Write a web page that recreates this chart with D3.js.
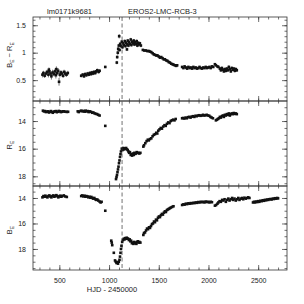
<!DOCTYPE html>
<html>
  <head>
    <style>
      body { margin: 0; background: #fff; }
      svg { font-family: "Liberation Sans", Arial, sans-serif; -webkit-font-smoothing: antialiased; }
      .axis path { display: none; }
      .axis line { stroke: #333; stroke-width: 0.7; }
      .axis text { fill: #222; font-size: 7px; }
      .label { fill: #222; font-size: 7.5px; }
    </style>
  </head>
  <body>
    <svg width="304" height="304"></svg>
    <script src="https://cdn.jsdelivr.net/npm/d3@7"></script>
    <script>
      // star names
      let titleLeft = "lm0171k9681",
        titleRight = "EROS2-LMC-RCB-3",
        xTitle = "HJD - 2450000";

      let xMajor = [500, 1000, 1500, 2000, 2500];
      let eventDate = 1131;

      // colour B_E - R_E : [hjd, value, error]
      let colourData = [
        [330,0.60,0.05],[340,0.63,0.04],[352,0.58,0.04],[365,0.62,0.05],[378,0.65,0.04],[390,0.60,0.05],
        [395,0.69,0.04],[400,0.66,0.06],[412,0.62,0.04],[420,0.57,0.06],[432,0.64,0.05],[445,0.61,0.04],
        [455,0.66,0.05],[465,0.59,0.06],[470,0.70,0.05],[478,0.63,0.04],[488,0.67,0.05],[497,0.47,0.07],
        [505,0.60,0.05],[515,0.64,0.04],[525,0.62,0.05],[538,0.58,0.04],[548,0.65,0.04],[560,0.62,0.05],
        [572,0.60,0.04],[585,0.63,0.04],
        [720,0.58,0.03],[735,0.60,0.03],[748,0.57,0.03],[760,0.61,0.03],[772,0.59,0.03],[785,0.62,0.03],
        [795,0.60,0.03],[808,0.63,0.03],[818,0.61,0.03],[828,0.64,0.03],[840,0.62,0.03],[850,0.65,0.03],
        [862,0.63,0.03],[872,0.66,0.03],[882,0.68,0.03],[895,0.65,0.03],[905,0.67,0.03],
        [962,0.74,0.02],
        [1078,0.82,0.03],[1082,0.92,0.03],[1088,1.00,0.04],[1092,1.07,0.04],[1098,1.13,0.03],[1102,1.30,0.04],[1106,1.05,0.03],
        [1112,1.16,0.03],[1120,1.12,0.03],[1128,1.20,0.03],[1135,1.10,0.03],[1142,1.17,0.03],[1150,1.14,0.03],
        [1158,1.21,0.03],[1165,1.12,0.03],[1172,1.18,0.03],[1180,1.06,0.03],[1184,1.15,0.03],[1188,1.22,0.03],
        [1195,1.13,0.03],[1202,1.19,0.03],[1210,1.16,0.03],[1218,1.24,0.03],[1225,1.14,0.03],[1232,1.20,0.03],
        [1240,1.17,0.03],[1248,1.22,0.03],[1255,1.15,0.03],[1262,1.19,0.03],[1270,1.16,0.03],[1278,1.21,0.03],
        [1285,1.13,0.03],[1292,1.18,0.03],[1300,1.15,0.03],[1310,1.17,0.03],[1320,1.13,0.03],
        [1340,1.05,0.02],[1355,1.04,0.02],[1370,1.04,0.02],[1385,1.03,0.02],[1400,1.03,0.02],[1412,1.02,0.02],
        [1425,1.01,0.02],[1438,0.99,0.02],[1450,0.97,0.02],[1462,0.96,0.02],[1475,0.95,0.02],[1487,0.95,0.02],
        [1500,0.93,0.02],[1512,0.91,0.02],[1525,0.92,0.02],[1538,0.90,0.02],[1550,0.88,0.02],[1562,0.88,0.02],
        [1575,0.86,0.02],[1588,0.85,0.02],[1600,0.83,0.02],[1612,0.82,0.02],[1625,0.80,0.02],[1638,0.79,0.02],
        [1650,0.78,0.02],[1662,0.77,0.02],[1675,0.76,0.02],[1685,0.77,0.02],
        [1735,0.74,0.02],[1748,0.72,0.02],[1760,0.75,0.02],[1772,0.73,0.02],[1785,0.71,0.02],[1798,0.74,0.02],
        [1810,0.72,0.02],[1822,0.73,0.02],[1835,0.71,0.02],[1848,0.74,0.02],[1860,0.72,0.02],[1872,0.73,0.02],
        [1885,0.71,0.02],[1898,0.72,0.02],[1910,0.74,0.02],[1922,0.72,0.02],[1935,0.71,0.02],[1948,0.73,0.02],
        [1960,0.72,0.02],[1972,0.74,0.02],[1985,0.72,0.02],[1998,0.73,0.02],[2010,0.74,0.02],[2022,0.72,0.02],
        [2035,0.75,0.02],[2048,0.74,0.02],
        [2065,0.79,0.02],[2075,0.77,0.02],[2090,0.75,0.02],[2100,0.74,0.02],
        [2115,0.71,0.03],[2125,0.68,0.03],[2135,0.72,0.03],[2145,0.69,0.03],[2155,0.66,0.03],[2165,0.70,0.03],
        [2175,0.67,0.03],[2185,0.71,0.03],[2195,0.68,0.03],[2205,0.74,0.03],[2215,0.70,0.03],[2225,0.66,0.03],
        [2235,0.72,0.03],[2245,0.69,0.03],[2255,0.71,0.03],[2265,0.67,0.03],[2275,0.70,0.03],[2285,0.68,0.03]
      ];

      // R_E magnitude : [hjd, mag]
      let redData = [
        [335,13.25],[345,13.3],[355,13.28],[365,13.35],[375,13.32],[385,13.3],[395,13.38],[405,13.33],
        [415,13.28],[425,13.35],[435,13.4],[445,13.32],[455,13.3],[465,13.28],[475,13.36],[485,13.32],
        [495,13.27],[505,13.3],[515,13.35],[525,13.33],[535,13.3],[545,13.3],[560,13.32],[575,13.34],[588,13.33],
        [685,13.3],[695,13.35],[712,13.28],[722,13.25],[735,13.3],[745,13.27],[755,13.32],[765,13.25],
        [775,13.3],[785,13.28],[795,13.35],[805,13.3],[818,13.33],[830,13.4],[842,13.38],[855,13.45],
        [868,13.48],[880,13.5],[892,13.55],[905,13.6],
        [962,14.35],
        [1070,18.2],[1075,18.05],[1080,17.9],[1085,17.7],[1090,17.5],[1095,17.3],[1100,17.05],[1105,16.85],
        [1110,16.6],[1115,16.4],[1120,16.2],
        [1128,16.0],[1135,16.1],[1142,15.95],[1150,16.05],[1158,15.98],[1165,16.0],[1172,15.95],[1180,16.05],
        [1188,16.1],[1195,16.2],[1202,16.3],[1210,16.25],[1218,16.45],[1225,16.4],[1232,16.5],[1240,16.35],
        [1248,16.45],[1255,16.3],[1262,16.38],[1270,16.35],[1278,16.25],[1285,16.3],[1295,16.3],[1305,16.35],[1315,16.3],
        [1345,15.85],[1352,15.75],[1365,15.6],[1378,15.45],[1390,15.35],[1400,15.4],[1412,15.3],[1425,15.25],
        [1438,15.1],[1450,15.0],[1462,14.95],[1475,14.85],[1485,14.9],[1495,14.7],[1508,14.6],[1520,14.5],
        [1532,14.55],[1545,14.4],[1558,14.3],[1570,14.35],[1582,14.2],[1595,14.1],[1608,14.15],[1620,14.0],
        [1632,13.95],[1645,13.9],[1658,13.95],[1670,13.85],
        [1735,13.8],[1745,13.78],[1758,13.82],[1770,13.75],[1782,13.8],[1795,13.72],[1808,13.7],[1820,13.75],
        [1832,13.68],[1845,13.65],[1858,13.7],[1870,13.62],[1882,13.65],[1895,13.6],[1908,13.58],[1920,13.62],
        [1932,13.6],[1945,13.55],[1958,13.6],[1970,13.58],[1982,13.55],[1995,13.6],[2008,13.62],[2020,13.7],
        [2032,13.75],[2045,13.8],
        [2075,13.95],[2085,13.9],[2095,13.85],[2105,13.8],
        [2115,13.7],[2125,13.75],[2135,13.65],[2145,13.6],[2155,13.7],[2165,13.55],[2175,13.6],[2185,13.5],
        [2195,13.55],[2205,13.45],[2215,13.6],[2225,13.5],[2235,13.45],[2245,13.5],[2255,13.42],[2265,13.48],
        [2275,13.45],[2285,13.5]
      ];

      // B_E magnitude : [hjd, mag]
      let blueData = [
        [330,13.95],[340,13.85],[350,13.9],[360,13.82],[370,13.9],[380,13.95],[390,13.85],[400,13.8],
        [410,13.88],[420,13.95],[430,13.85],[440,13.8],[450,13.9],[460,13.85],[470,13.78],[480,13.85],
        [490,13.95],[500,13.88],[510,13.82],[520,13.9],[530,13.85],[545,13.8],[560,13.88],[575,13.92],
        [720,13.85],[730,13.8],[742,13.88],[752,13.82],[762,13.9],[772,13.85],[782,13.88],[792,13.95],
        [802,13.9],[812,13.98],[822,13.92],[832,14.0],[842,14.05],[852,14.0],[862,14.1],[872,14.15],
        [882,14.12],[892,14.2],[905,14.28],[915,14.35],[925,14.3],
        [962,15.0],
        [1022,17.35],[1027,17.5],[1032,17.7],[1048,18.3],
        [1060,18.9],[1068,19.0],[1075,19.1],[1082,19.05],[1090,19.15],[1098,19.0],[1105,18.85],[1110,18.6],
        [1115,18.3],[1120,18.0],[1125,17.75],
        [1132,17.45],[1140,17.3],[1148,17.2],[1155,17.25],[1162,17.15],[1170,17.2],[1178,17.12],[1185,17.18],
        [1192,17.2],[1200,17.3],[1208,17.25],[1215,17.4],[1222,17.35],[1230,17.55],[1238,17.5],[1245,17.6],
        [1252,17.45],[1260,17.55],[1268,17.5],[1275,17.6],[1282,17.45],[1290,17.4],[1298,17.5],[1305,17.45],[1315,17.5],
        [1345,16.9],[1352,16.75],[1362,16.7],[1372,16.55],[1382,16.4],[1392,16.45],[1402,16.3],[1412,16.35],
        [1422,16.2],[1432,16.05],[1442,16.0],[1452,15.85],[1462,15.9],[1472,15.7],[1482,15.75],[1492,15.55],
        [1502,15.45],[1512,15.5],[1522,15.35],[1532,15.25],[1542,15.3],[1552,15.15],[1562,15.05],[1572,15.1],
        [1582,14.95],[1592,14.9],[1602,14.85],[1612,14.8],[1622,14.75],[1635,14.7],[1648,14.65],
        [1735,14.55],[1748,14.5],[1760,14.52],[1772,14.45],[1785,14.48],[1798,14.42],[1810,14.45],[1822,14.4],
        [1835,14.42],[1848,14.38],[1860,14.4],[1872,14.35],[1885,14.38],[1898,14.32],[1910,14.35],[1922,14.3],
        [1935,14.33],[1948,14.3],[1960,14.35],[1972,14.28],[1985,14.32],[1998,14.3],[2010,14.35],[2022,14.3],[2035,14.33],
        [2065,14.6],[2077,14.55],[2090,14.45],
        [2100,14.35],[2112,14.25],[2125,14.3],[2138,14.15],[2150,14.2],[2162,14.1],[2175,14.3],[2188,14.15],
        [2200,14.05],[2212,14.2],[2225,14.1],[2238,14.0],[2250,14.15],[2262,14.05],[2275,14.2],[2288,14.1],
        [2300,14.0],[2312,14.15],[2325,14.05],[2338,14.0],[2350,14.1],[2362,13.98],[2375,14.05],[2388,14.0],
        [2400,13.95],[2412,14.0],
        [2448,14.35],[2458,14.3],[2468,14.35],[2478,14.28],[2490,14.32],[2500,14.25],[2512,14.3],[2522,14.22],
        [2535,14.25],[2545,14.18],[2558,14.22],[2568,14.15],[2580,14.18],[2590,14.12],[2602,14.15],[2612,14.1],
        [2625,14.08],[2635,14.12],[2648,14.05],[2658,14.08],[2670,14.02],[2680,14.05],[2692,14.0],[2700,14.03]
      ];

      let svg = d3.select("svg");
      let left = 33,
        right = 287;

      let x = d3.scaleLinear().domain([235, 2790]).range([left, right]);

      // label parts: [text, isSubscript]
      let panels = [
        { data: colourData, top: 17, bottom: 101, domain: [0.12, 1.65], major: [0.5, 1, 1.5],
          minor: d3.range(2, 17).map((i) => i / 10),
          label: [["B", 0], ["E", 1], [" \u2212 ", 0], ["R", 0], ["E", 1]], labelY: 55 },
        { data: redData, top: 101, bottom: 186, domain: [12.55, 18.7], major: [14, 16, 18],
          minor: d3.range(26, 38).map((i) => i / 2), label: [["R", 0], ["E", 1]], labelY: 145 },
        { data: blueData, top: 186, bottom: 270, domain: [13.06, 19.65], major: [14, 16, 18],
          minor: d3.range(27, 40).map((i) => i / 2), label: [["B", 0], ["E", 1]], labelY: 230 }
      ];

      let xMinor = d3.range(300, 2800, 100);

      panels.forEach((p, i) => {
        let y = d3.scaleLinear().domain(p.domain).range(i == 0 ? [p.bottom, p.top] : [p.top, p.bottom]);
        let g = svg.append("g");
        let last = i == panels.length - 1;

        // ticks, all pointing inwards
        g.append("g").attr("class", "axis").attr("transform", `translate(0,${p.bottom})`)
          .call(d3.axisBottom(x).tickValues(xMajor).tickSize(-5).tickSizeOuter(0)
            .tickFormat(last ? d3.format("d") : "").tickPadding(8));
        g.append("g").attr("class", "axis").attr("transform", `translate(0,${p.bottom})`)
          .call(d3.axisBottom(x).tickValues(xMinor).tickSize(-2.5).tickFormat(""));
        g.append("g").attr("class", "axis").attr("transform", `translate(0,${p.top})`)
          .call(d3.axisTop(x).tickValues(xMajor).tickSize(-5).tickFormat(""));
        g.append("g").attr("class", "axis").attr("transform", `translate(0,${p.top})`)
          .call(d3.axisTop(x).tickValues(xMinor).tickSize(-2.5).tickFormat(""));
        g.append("g").attr("class", "axis").attr("transform", `translate(${left},0)`)
          .call(d3.axisLeft(y).tickValues(p.major).tickSize(-5).tickPadding(7).tickFormat(d3.format("")));
        g.append("g").attr("class", "axis").attr("transform", `translate(${left},0)`)
          .call(d3.axisLeft(y).tickValues(p.minor).tickSize(-2.5).tickFormat(""));
        g.append("g").attr("class", "axis").attr("transform", `translate(${right},0)`)
          .call(d3.axisRight(y).tickValues(p.major).tickSize(-5).tickFormat(""));
        g.append("g").attr("class", "axis").attr("transform", `translate(${right},0)`)
          .call(d3.axisRight(y).tickValues(p.minor).tickSize(-2.5).tickFormat(""));

        g.append("rect")
          .attr("x", left).attr("y", p.top)
          .attr("width", right - left).attr("height", p.bottom - p.top)
          .attr("fill", "none").attr("stroke", "#333").attr("stroke-width", 0.8);

        // error bars (colour panel)
        if (i == 0) {
          g.append("g").selectAll("line").data(p.data).enter().append("line")
            .attr("x1", (d) => x(d[0])).attr("x2", (d) => x(d[0]))
            .attr("y1", (d) => y(d[1] - d[2])).attr("y2", (d) => y(d[1] + d[2]))
            .attr("stroke", "#111").attr("stroke-width", 0.6);
        }

        g.append("g").selectAll("rect").data(p.data).enter().append("rect")
          .attr("x", (d) => x(d[0]) - 1.3).attr("y", (d) => y(d[1]) - 1.3)
          .attr("width", 2.6).attr("height", 2.6)
          .attr("fill", "#111");

        // rotated y title with subscripts
        let t = svg.append("text")
          .attr("class", "label")
          .attr("transform", `translate(12,${p.labelY}) rotate(-90)`)
          .attr("text-anchor", "middle");
        let wasSub = false;
        p.label.forEach(([s, sub]) => {
          t.append("tspan").text(s)
            .attr("dy", sub ? 2 : (wasSub ? -2 : 0))
            .attr("font-size", sub ? 5 : 7.5);
          wasSub = sub;
        });
      });

      // event line
      svg.append("line")
        .attr("x1", x(eventDate)).attr("x2", x(eventDate))
        .attr("y1", 17).attr("y2", 270)
        .attr("stroke", "#333").attr("stroke-width", 0.7)
        .attr("stroke-dasharray", "4,2.5");

      svg.append("text").attr("class", "label").attr("x", 47).attr("y", 14).text(titleLeft);
      svg.append("text").attr("class", "label").attr("x", 128).attr("y", 14).text(titleRight);
      svg.append("text").attr("class", "label").attr("x", 112).attr("y", 292)
        .attr("text-anchor", "middle").text(xTitle);
    </script>
  </body>
</html>
